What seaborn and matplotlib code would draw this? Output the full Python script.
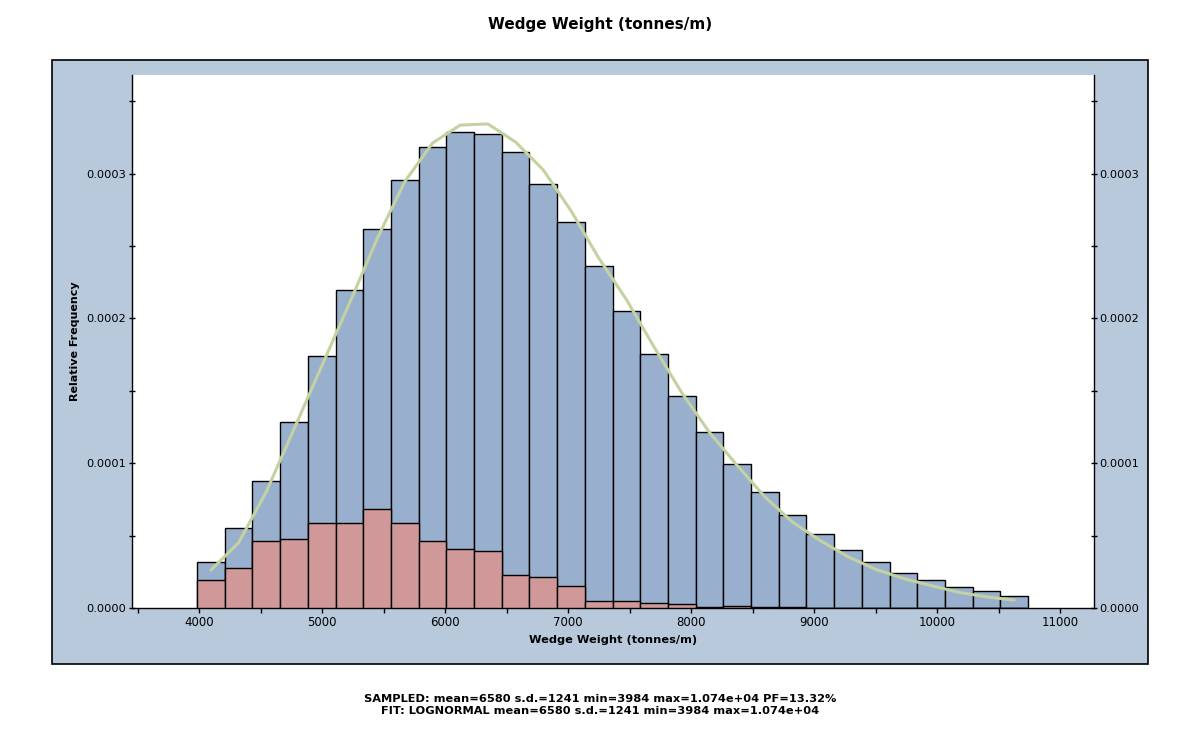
"""Histograma de Wedge Weight com curva de ajuste lognormal."""

import matplotlib
matplotlib.use("Agg")
import matplotlib.pyplot as plt
import matplotlib.ticker as mticker
from matplotlib.patches import Rectangle
import numpy as np
import pandas as pd
import seaborn as sns

# --- dados -----------------------------------------------------------------
data_min = 3984.0
data_max = 10740.0
n_bins = 30

# frequência relativa total (barras azuis), x1e-4
sampled_freq = [0.318, 0.550, 0.875, 1.285, 1.738, 2.194, 2.617, 2.954, 3.184, 3.285,
                3.271, 3.147, 2.926, 2.664, 2.360, 2.049, 1.752, 1.462, 1.213, 0.992,
                0.799, 0.640, 0.509, 0.398, 0.316, 0.240, 0.191, 0.143, 0.115, 0.081]

# parcela de ruptura (barras vermelhas), x1e-4
failed_freq = [0.193, 0.274, 0.461, 0.474, 0.585, 0.585, 0.682, 0.585, 0.461, 0.405,
               0.391, 0.226, 0.212, 0.150, 0.046, 0.046, 0.032, 0.025, 0.005, 0.012,
               0.005, 0.005, 0.0, 0.0, 0.0, 0.0, 0.0, 0.0, 0.0, 0.0]

# curva lognormal nos centros das classes, x1e-4
fit_freq = [0.262, 0.451, 0.803, 1.236, 1.671, 2.104, 2.550, 2.945, 3.211, 3.335,
            3.343, 3.218, 3.025, 2.743, 2.417, 2.130, 1.802, 1.486, 1.212, 0.984,
            0.767, 0.593, 0.465, 0.354, 0.267, 0.204, 0.155, 0.108, 0.077, 0.054]

title = "Wedge Weight (tonnes/m)"
xlabel = "Wedge Weight (tonnes/m)"
ylabel = "Relative Frequency"
footer = ("SAMPLED: mean=6580 s.d.=1241 min=3984 max=1.074e+04 PF=13.32%\n"
          "FIT: LOGNORMAL mean=6580 s.d.=1241 min=3984 max=1.074e+04")

# --- estilo ----------------------------------------------------------------
BLUE = "#98B0CE"
RED = "#D09898"
GREEN = "#C3D2A0"
PANEL = "#B8C9DC"

sns.set_theme(style="white")
plt.rcParams["font.family"] = ["DejaVu Sans"]
for key in ("text.color", "axes.labelcolor", "xtick.color", "ytick.color"):
    plt.rcParams[key] = "black"

edges = np.linspace(data_min, data_max, n_bins + 1)
df = pd.DataFrame({
    "center": (edges[:-1] + edges[1:]) / 2,
    "sampled": np.array(sampled_freq) * 1e-4,
    "failed": np.array(failed_freq) * 1e-4,
    "fit": np.array(fit_freq) * 1e-4,
})

fig = plt.figure(figsize=(12, 7.29), dpi=100)
fig.patch.set_facecolor("white")
fig.patches.append(Rectangle((52 / 1200, 1 - 664 / 729), 1096 / 1200, 604 / 729,
                             transform=fig.transFigure, facecolor=PANEL,
                             edgecolor="black", linewidth=1.2, zorder=-1))

ax = fig.add_axes([132 / 1200, 1 - 608 / 729, 962 / 1200, 533 / 729])
ax.set_facecolor("white")

hist_kw = dict(bins=n_bins, binrange=(data_min, data_max), stat="count",
               edgecolor="black", linewidth=1, alpha=1, ax=ax)
sns.histplot(data=df, x="center", weights="sampled", color=BLUE, zorder=2, **hist_kw)
sns.histplot(data=df, x="center", weights="failed", color=RED, zorder=3, **hist_kw)
sns.lineplot(data=df, x="center", y="fit", color=GREEN, linewidth=2.2, ax=ax, zorder=4)

ax.set_xlim(3455, 11276)
ax.set_ylim(0, 3.681e-4)

ax.xaxis.set_major_locator(mticker.MultipleLocator(1000))
ax.xaxis.set_minor_locator(mticker.MultipleLocator(500))
ax.yaxis.set_major_locator(mticker.MultipleLocator(1e-4))
ax.yaxis.set_minor_locator(mticker.MultipleLocator(5e-5))
ax.yaxis.set_major_formatter(mticker.FormatStrFormatter("%.4f"))

ax.tick_params(axis="x", which="both", direction="out", length=3.5, width=1,
               color="black", labelsize=8.5, pad=2.5, bottom=True)
ax.tick_params(axis="y", which="both", direction="inout", length=5, width=1,
               color="black", labelsize=8.2, pad=1.5, left=True, right=True,
               labelright=True)

for side in ("left", "right", "bottom"):
    ax.spines[side].set_visible(True)
    ax.spines[side].set_color("black")
    ax.spines[side].set_linewidth(1)
ax.spines["top"].set_visible(False)

ax.set_xlabel(xlabel, fontsize=8.2, fontweight="bold", labelpad=4)
ax.set_ylabel(ylabel, fontsize=8, fontweight="bold", labelpad=5)

fig.text(0.5, 1 - 25 / 729, title, ha="center", va="center",
         fontsize=11, fontweight="bold")
fig.text(0.5, 1 - 705 / 729, footer, ha="center", va="center",
         fontsize=8.2, fontweight="bold", linespacing=1.2)

fig.savefig("out.png", dpi=100)
plt.close(fig)
